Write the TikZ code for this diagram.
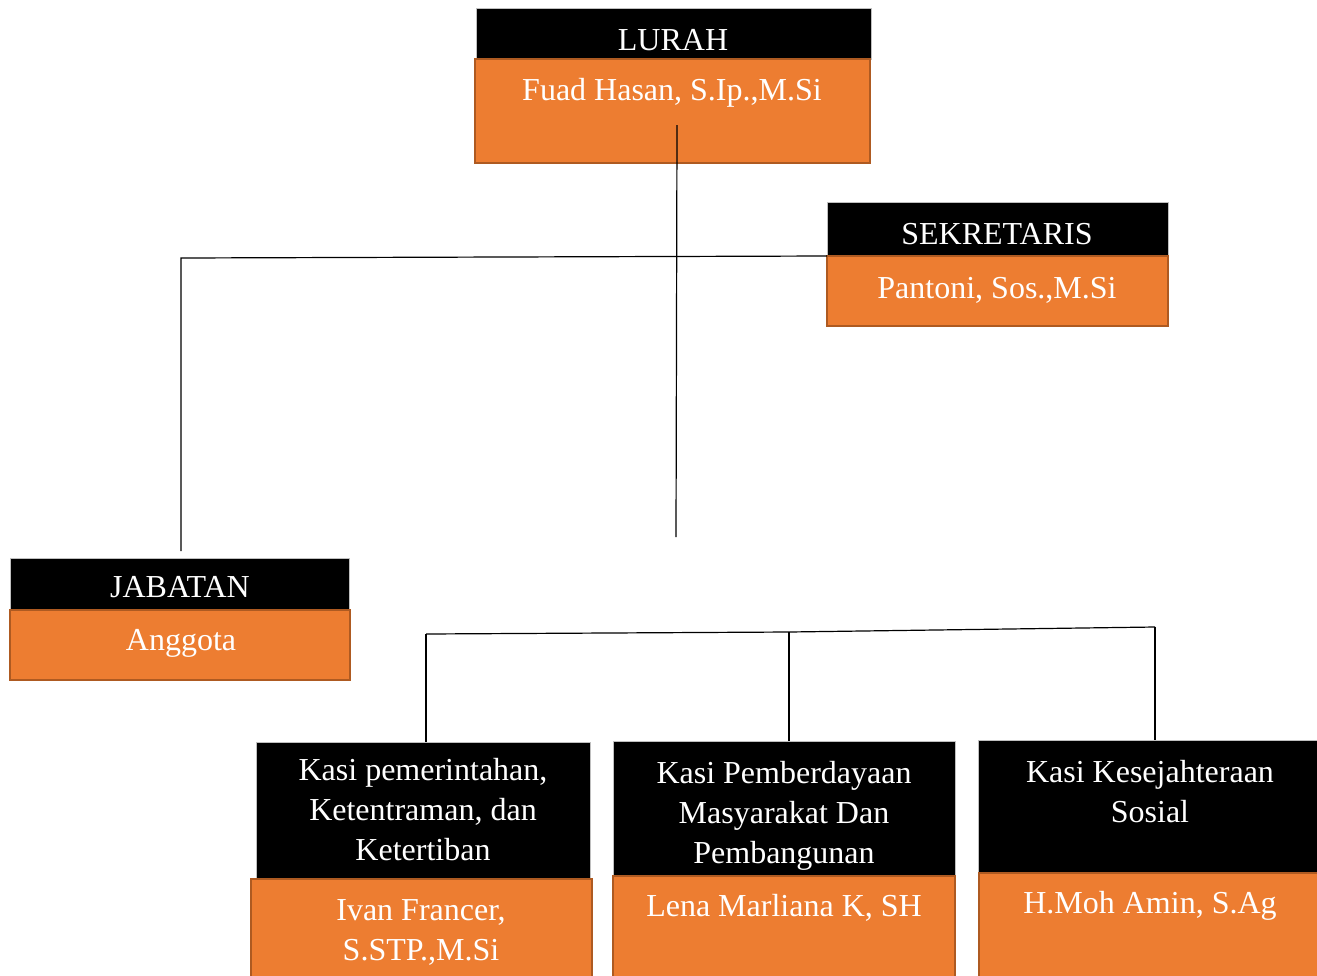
\documentclass[tikz,border=0pt]{standalone}
\usepackage{fontspec}
\setmainfont{Liberation Serif}
\definecolor{org}{HTML}{ED7D31}
\definecolor{orgline}{HTML}{AE5A21}
\begin{document}
\begin{tikzpicture}[x=1pt,y=-1pt,
  blk/.style={fill=black, draw=gray!50, line width=0.8pt, inner sep=0pt, outer sep=0pt, anchor=north west},
  orgbox/.style={fill=org, draw=orgline, line width=2.4pt, inner sep=0pt, outer sep=0pt, anchor=north west},
  txt/.style={text=white, font=\fontsize{32}{40}\selectfont, align=center, inner sep=0pt, anchor=base},
  conn/.style={draw=black, line width=1.2pt}]
\useasboundingbox (0,0) rectangle (1317,975);
% LURAH
\node[blk, minimum width=395pt, minimum height=51pt] (lurahH) at (476,8) {};
\node[orgbox, minimum width=395pt, minimum height=104pt] (lurahB) at (475,59) {};
\node[txt] (lurahT) at (673,50) {LURAH};
\node[txt] (lurahN) at (672,100) {Fuad Hasan, S.Ip.,M.Si};
% SEKRETARIS
\node[blk, minimum width=341pt, minimum height=54pt] (sekH) at (827,202) {};
\node[orgbox, minimum width=341pt, minimum height=70pt] (sekB) at (827,256) {};
\node[txt] (sekT) at (997,244) {SEKRETARIS};
\node[txt] (sekN) at (997,298) {Pantoni, Sos.,M.Si};
% JABATAN
\node[blk, minimum width=339pt, minimum height=51pt] (jabH) at (10,558) {};
\node[orgbox, minimum width=340pt, minimum height=70pt] (jabB) at (10,610) {};
\node[txt] (jabT) at (180,597) {JABATAN};
\node[txt] (jabN) at (181,650) {Anggota};
% Kasi 1
\node[blk, minimum width=334pt, minimum height=137pt] (k1H) at (256,742) {};
\node[txt] (k1T) at (423,860) {Kasi pemerintahan,\\Ketentraman, dan\\Ketertiban};
\node[orgbox, minimum width=341pt, minimum height=110pt] (k1B) at (251,879) {};
\node[txt] (k1N) at (421,960) {Ivan Francer,\\S.STP.,M.Si};
% Kasi 2
\node[blk, minimum width=342pt, minimum height=135pt] (k2H) at (613,741) {};
\node[txt] (k2T) at (784,863) {Kasi Pemberdayaan\\Masyarakat Dan\\Pembangunan};
\node[orgbox, minimum width=342pt, minimum height=110pt] (k2B) at (613,876) {};
\node[txt] (k2N) at (784,916) {Lena Marliana K, SH};
% Kasi 3
\node[blk, minimum width=345pt, minimum height=133pt] (k3H) at (978,740) {};
\node[txt] (k3T) at (1150,822) {Kasi Kesejahteraan\\Sosial};
\node[orgbox, minimum width=345pt, minimum height=110pt] (k3B) at (979,873) {};
\node[txt] (k3N) at (1150,913) {H.Moh Amin, S.Ag};
% connectors
\coordinate (lA) at (677,125);
\coordinate (lB) at (676,537);
\coordinate (hL) at (181,258);
\coordinate (jEnd) at (181,551);
\coordinate (bL) at (426,634);
\coordinate (bM) at (789,632);
\coordinate (bR) at (1155,627);
\draw[conn] (lA) -- (lB);
\draw[conn] (sekH.south west) -- (hL) -- (jEnd);
\draw[conn] (bL) -- (bM) -- (bR);
\draw[conn] (bL) -- (k1H.north -| bL);
\draw[conn] (bM) -- (k2H.north -| bM);
\draw[conn] (bR) -- (k3H.north -| bR);
\end{tikzpicture}
\end{document}
